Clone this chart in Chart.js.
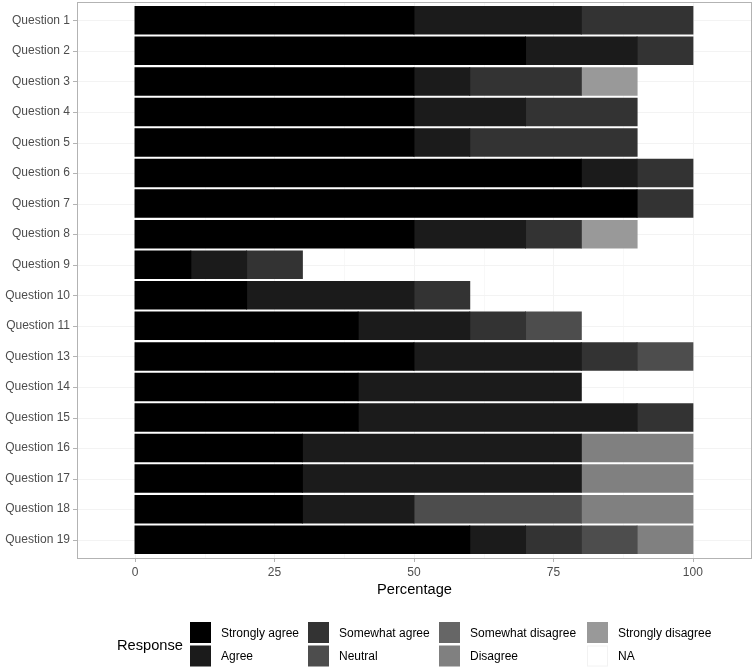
<!DOCTYPE html>
<html lang="en">
<head>
<meta charset="UTF-8">
<meta name="viewport" content="width=device-width, initial-scale=1.0">
<title>Survey responses</title>
<style>
  body { margin: 0; background: #fff; }
</style>
</head>
<body>
<canvas id="myChart" width="756" height="672"></canvas>
<script src="https://cdn.jsdelivr.net/npm/chart.js"></script>
<script>
// categories (Question 12 is missing in the source)
const questions = ["Question 1", "Question 2", "Question 3", "Question 4", "Question 5", "Question 6",
  "Question 7", "Question 8", "Question 9", "Question 10", "Question 11", "Question 13",
  "Question 14", "Question 15", "Question 16", "Question 17", "Question 18", "Question 19"];

// percentages per response
const stronglyAgree    = [50, 70, 50, 50, 50, 80, 90, 50, 10, 20, 40, 50, 40, 40, 30, 30, 30, 60];
const agree            = [30, 20, 10, 20, 10, 10,  0, 20, 10, 30, 20, 30, 40, 50, 50, 50, 20, 10];
const somewhatAgree    = [20, 10, 20, 20, 30, 10, 10, 10, 10, 10, 10, 10,  0, 10,  0,  0,  0, 10];
const neutral          = [ 0,  0,  0,  0,  0,  0,  0,  0,  0,  0, 10, 10,  0,  0,  0,  0, 30, 10];
const somewhatDisagree = [ 0,  0,  0,  0,  0,  0,  0,  0,  0,  0,  0,  0,  0,  0,  0,  0,  0,  0];
const disagree         = [ 0,  0,  0,  0,  0,  0,  0,  0,  0,  0,  0,  0,  0,  0, 20, 20, 20, 10];
const stronglyDisagree = [ 0,  0, 10,  0,  0,  0,  0, 10,  0,  0,  0,  0,  0,  0,  0,  0,  0,  0];
const noAnswer         = [ 0,  0,  0,  0,  0,  0,  0,  0,  0,  0,  0,  0,  0,  0,  0,  0,  0,  0];

const responseNames = ["Strongly agree", "Agree", "Somewhat agree", "Neutral",
  "Somewhat disagree", "Disagree", "Strongly disagree", "NA"];
const responseValues = [stronglyAgree, agree, somewhatAgree, neutral,
  somewhatDisagree, disagree, stronglyDisagree, noAnswer];
const responseColors = ["#000000", "#1b1b1b", "#333333", "#4d4d4d",
  "#666666", "#808080", "#999999", "#ffffff"];

const xTicks = [0, 25, 50, 75, 100];
const xMin = -10.4;
const xMax = 110.6;

const family = "'Liberation Sans', Arial, sans-serif";

// ggplot-like panel: faint grid, grey border and short ticks
const panelPlugin = {
  id: "panel",
  beforeDatasetsDraw(chart) {
    const { ctx, chartArea, scales: { x, y } } = chart;
    const ext = (y.getPixelForValue(1) - y.getPixelForValue(0)) * 0.1;
    const top = chartArea.top - ext, bottom = chartArea.bottom + ext;
    ctx.save();
    ctx.lineWidth = 1;
    // minor x grid
    ctx.strokeStyle = "#f8f8f8";
    for (let i = 0; i < xTicks.length - 1; i++) {
      const px = Math.round(x.getPixelForValue((xTicks[i] + xTicks[i + 1]) / 2)) + 0.5;
      ctx.beginPath(); ctx.moveTo(px, top); ctx.lineTo(px, bottom); ctx.stroke();
    }
    // major grid
    ctx.strokeStyle = "#f3f3f3";
    xTicks.forEach(v => {
      const px = Math.round(x.getPixelForValue(v)) + 0.5;
      ctx.beginPath(); ctx.moveTo(px, top); ctx.lineTo(px, bottom); ctx.stroke();
    });
    questions.forEach((q, i) => {
      const py = Math.round(y.getPixelForValue(i)) + 0.5;
      ctx.beginPath(); ctx.moveTo(chartArea.left, py); ctx.lineTo(chartArea.right, py); ctx.stroke();
    });
    ctx.restore();
  },
  afterDraw(chart) {
    const { ctx, chartArea, scales: { x, y } } = chart;
    const ext = (y.getPixelForValue(1) - y.getPixelForValue(0)) * 0.1;
    const top = Math.round(chartArea.top - ext), bottom = Math.round(chartArea.bottom + ext);
    ctx.save();
    ctx.strokeStyle = "#b3b3b3";
    ctx.lineWidth = 1;
    ctx.strokeRect(Math.round(chartArea.left) + 0.5, top + 0.5,
      Math.round(chartArea.right) - Math.round(chartArea.left) - 1, bottom - top);
    xTicks.forEach(v => {
      const px = Math.round(x.getPixelForValue(v)) + 0.5;
      ctx.beginPath(); ctx.moveTo(px, bottom + 0.5); ctx.lineTo(px, bottom + 4); ctx.stroke();
    });
    questions.forEach((q, i) => {
      const py = Math.round(y.getPixelForValue(i)) + 0.5;
      ctx.beginPath(); ctx.moveTo(chartArea.left - 4, py); ctx.lineTo(chartArea.left, py); ctx.stroke();
    });
    ctx.restore();
  }
};

// bottom legend laid out in 2 rows, filled column by column
const legendPlugin = {
  id: "responseLegend",
  afterDraw(chart) {
    const ctx = chart.ctx;
    const colX = [190, 308, 439, 587];
    ctx.save();
    ctx.textAlign = "left";
    ctx.textBaseline = "middle";
    ctx.fillStyle = "#000000";
    ctx.font = "14.67px " + family;
    ctx.fillText("Response", 117, 646);
    ctx.font = "12px " + family;
    chart.data.datasets.forEach((ds, i) => {
      const kx = colX[Math.floor(i / 2)];
      const ky = 622 + (i % 2) * 23.5;
      ctx.fillStyle = ds.backgroundColor;
      ctx.fillRect(kx, ky, 21, 21);
      if (ds.backgroundColor === "#ffffff") {
        ctx.strokeStyle = "#f2f2f2";
        ctx.strokeRect(kx + 0.5, ky + 0.5, 20, 20);
      }
      ctx.fillStyle = "#000000";
      ctx.fillText(ds.label, kx + 31, ky + 11.5);
    });
    ctx.restore();
  }
};

const ctx = document.getElementById("myChart");

let v_datasets = [];
for (let i = 0; i < responseNames.length; i++) {
  v_datasets.push({
    label: responseNames[i],
    // empty segments are left out so the small overlap below does not show them
    data: responseValues[i].map(v => (v === 0 ? null : v)),
    backgroundColor: responseColors[i],
    borderWidth: 0,
    inflateAmount: 0.5,
    barPercentage: 0.9,
    categoryPercentage: 1.0
  });
}

new Chart(ctx, {
  type: "bar",
  data: {
    labels: questions,
    datasets: v_datasets
  },
  options: {
    indexAxis: "y",
    responsive: false,
    animation: false,
    layout: { padding: { top: 5, right: 4, bottom: 73, left: 0 } },
    plugins: {
      legend: { display: false },
      tooltip: { enabled: false }
    },
    scales: {
      x: {
        type: "linear",
        stacked: true,
        min: xMin,
        max: xMax,
        grid: { display: false, drawTicks: false },
        border: { display: false },
        afterBuildTicks: (s) => { s.ticks = xTicks.map(v => ({ value: v })); },
        ticks: {
          padding: 10,
          autoSkip: false,
          maxRotation: 0,
          color: "#4d4d4d",
          font: { size: 12, family: family }
        },
        title: {
          display: true,
          text: "Percentage",
          color: "#000000",
          padding: 0,
          font: { size: 14.67, family: family }
        },
        afterFit: (s) => {
          s.height = 44;
          s.paddingLeft = 0;
          s.paddingRight = 0;
        }
      },
      y: {
        stacked: true,
        offset: true,
        grid: { display: false, drawTicks: false },
        border: { display: false },
        ticks: {
          padding: 7,
          autoSkip: false,
          color: "#4d4d4d",
          font: { size: 12, family: family }
        },
        afterFit: (s) => {
          s.width = 77;
          s.paddingTop = 0;
          s.paddingBottom = 0;
        }
      }
    }
  },
  plugins: [panelPlugin, legendPlugin]
});
</script>
</body>
</html>
